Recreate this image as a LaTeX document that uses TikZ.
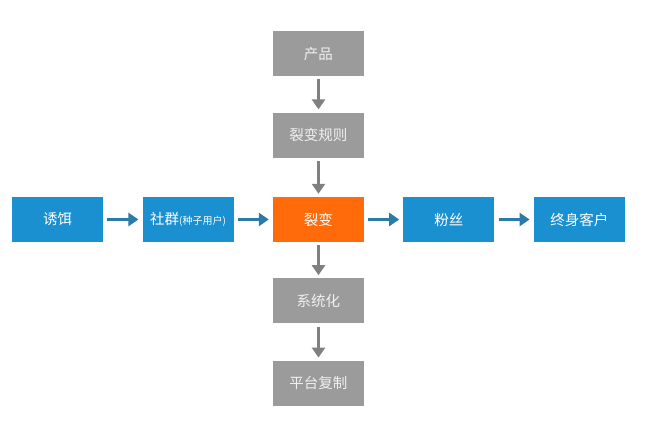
\documentclass[tikz,border=0pt]{standalone}
\usepackage{fontspec}
\setmainfont{Noto Sans CJK SC}
\usetikzlibrary{arrows.meta,positioning}
\definecolor{boxblue}{HTML}{1A90D0}
\definecolor{boxorange}{HTML}{FF6A0A}
\definecolor{boxgray}{HTML}{9B9B9B}
\definecolor{arrowblue}{HTML}{2A7BA6}
\definecolor{arrowgray}{HTML}{808080}

\begin{document}
\begin{tikzpicture}[font=\fontsize{14.5}{16}\selectfont,>={Triangle[width=13pt,length=10pt]},
 stage/.style={fill=boxblue,text=white,minimum width=91pt,minimum height=45pt,inner sep=0pt,align=center},
 core/.style={stage,fill=boxorange}, support/.style={stage,fill=boxgray,text=white!94!black},
 flow/.style={->,line width=3.5pt,arrowblue,shorten <=4pt,shorten >=4pt},
 vflow/.style={flow,arrowgray,shorten <=3pt,shorten >=3pt}]
\useasboundingbox (-318.5pt,-210.5pt) rectangle (330.5pt,219.5pt);
\node[core] (fission) {裂变};
\node[stage,left=39pt of fission] (community) {社群{\fontsize{10}{12}\selectfont(种子用户)}};
\node[stage,left=39pt of community] (bait) {诱饵};
\node[stage,right=39pt of fission] (fans) {粉丝};
\node[stage,right=39pt of fans] (lifelong) {终身客户};
\node[support,above=39pt of fission] (rules) {裂变规则};
\node[support,above=36pt of rules] (product) {产品};
\node[support,below=36pt of fission] (system) {系统化};
\node[support,below=37pt of system] (platform) {平台复制};
\foreach \a/\b in {bait/community,community/fission,fission/fans,fans/lifelong}
  \draw[flow] (\a) -- (\b);
\foreach \a/\b in {product/rules,rules/fission,fission/system,system/platform}
  \draw[vflow] (\a) -- (\b);
\end{tikzpicture}
\end{document}
